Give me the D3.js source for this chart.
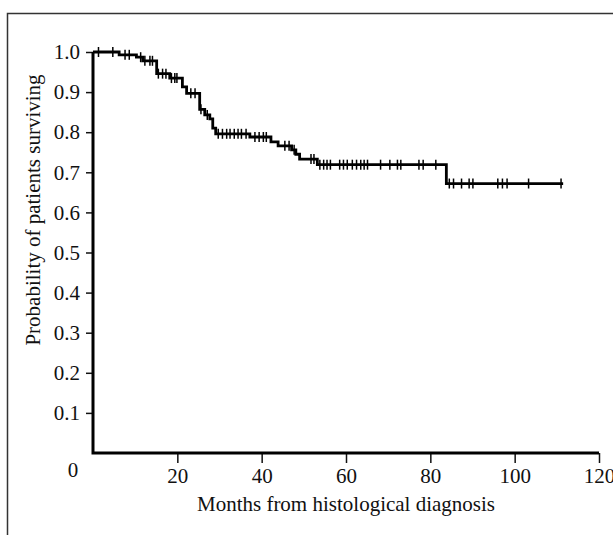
<!DOCTYPE html>
<html>
<head>
<meta charset="utf-8">
<script src="https://cdn.jsdelivr.net/npm/d3@7"></script>
<style>
  html, body { margin: 0; padding: 0; background: #fff; overflow: hidden; }
  svg { display: block; }
  text { font-family: "Liberation Serif", "Times New Roman", serif; fill: #111; }
</style>
</head>
<body>
<script>
// Kaplan-Meier steps: time (months) where survival drops, and survival after the drop
var stepTimes = [0, 6.2, 10.3, 11.8, 15.1, 18.2, 21.2, 22.2, 25.3, 26.5, 27.7, 28.4, 29.1, 37.2, 42.2, 43.9, 47.1, 48.1, 49.0, 53.2, 83.8];
var stepSurv  = [1.0, 0.993, 0.987, 0.978, 0.946, 0.935, 0.913, 0.897, 0.857, 0.843, 0.833, 0.81, 0.796, 0.788, 0.776, 0.766, 0.756, 0.745, 0.733, 0.719, 0.672];
var endTime = 111.5;

// censored observations (months)
var censorTimes = [1.3, 4.7, 7.6, 8.6, 11.3, 12.3, 13.5, 14.1, 15.5, 16.5, 17.3, 18.6, 19.4, 19.9, 23.2, 24.2, 25.6, 27.1,
  29.7, 30.7, 31.7, 32.5, 33.5, 34.4, 35.2, 36.3, 38.4, 39.4, 40.4, 41.1, 45.5, 46.5, 47.7, 51.7, 52.4,
  53.8, 54.7, 55.5, 56.3, 58.5, 59.4, 60.3, 61.5, 62.5, 63.5, 64.3, 65.1, 68.2, 70.4, 72.2, 73.0, 77.3, 78.3, 81.3,
  84.5, 85.5, 87.4, 89.2, 90.1, 96.0, 97.1, 98.2, 103.3, 111.0];

var xTicks = [20, 40, 60, 80, 100, 120];
var yTicks = [0.1, 0.2, 0.3, 0.4, 0.5, 0.6, 0.7, 0.8, 0.9, 1.0];
var xTitle = "Months from histological diagnosis";
var yTitle = "Probability of patients surviving";

var W = 613, H = 535, FS = 21;
var svg = d3.select("body").append("svg").attr("width", W).attr("height", H);

// outer frame (runs off the right and bottom edges)
svg.append("rect")
  .attr("x", 7.5).attr("y", 13.5).attr("width", 700).attr("height", 600)
  .attr("fill", "none").attr("stroke", "#333").attr("stroke-width", 1.5);

var x = d3.scaleLinear().domain([0, 120]).range([93, 599]);
var y = d3.scaleLinear().domain([0, 1]).range([453, 52]);

function survAt(t) {
  var s = stepSurv[0];
  for (var i = 0; i < stepTimes.length; i++) {
    if (stepTimes[i] <= t) s = stepSurv[i];
  }
  return s;
}

// axes
var xAxis = svg.append("g").attr("transform", "translate(0," + y(0) + ")")
  .call(d3.axisBottom(x).tickValues(xTicks).tickSize(10).tickPadding(5).tickFormat(d3.format("d")));
var yAxis = svg.append("g").attr("transform", "translate(" + x(0) + ",0)")
  .call(d3.axisLeft(y).tickValues(yTicks).tickSize(7).tickPadding(6).tickFormat(d3.format(".1f")));

[xAxis, yAxis].forEach(function (g) {
  g.select(".domain").remove();
  g.selectAll(".tick line").attr("stroke", "#111").attr("stroke-width", 1.5);
  g.selectAll(".tick text").attr("font-size", FS).attr("font-family", "Liberation Serif").attr("fill", "#111");
});

// thick axis lines
svg.append("path")
  .attr("d", "M" + x(0) + "," + y(1) + "V" + y(0) + "H" + x(120))
  .attr("fill", "none").attr("stroke", "#000").attr("stroke-width", 3);

// zero label at origin
svg.append("text").attr("x", 73).attr("y", 477)
  .attr("text-anchor", "middle").attr("font-size", FS).text("0");

// survival step line
var pts = stepTimes.map(function (t, i) { return [t, stepSurv[i]]; });
pts.push([endTime, stepSurv[stepSurv.length - 1]]);
var line = d3.line().x(function (d) { return x(d[0]); }).y(function (d) { return y(d[1]); }).curve(d3.curveStepAfter);
svg.append("path").datum(pts).attr("d", line)
  .attr("fill", "none").attr("stroke", "#000").attr("stroke-width", 2.8);

// censor marks
svg.selectAll(".censor").data(censorTimes).enter().append("line")
  .attr("class", "censor")
  .attr("x1", function (d) { return x(d); }).attr("x2", function (d) { return x(d); })
  .attr("y1", function (d) { return y(survAt(d)) - 5; })
  .attr("y2", function (d) { return y(survAt(d)) + 5; })
  .attr("stroke", "#000").attr("stroke-width", 1.5);

// titles
svg.append("text").attr("x", 346).attr("y", 511).attr("text-anchor", "middle")
  .attr("font-size", FS).text(xTitle);
svg.append("text").attr("transform", "translate(40,210) rotate(-90)")
  .attr("text-anchor", "middle").attr("font-size", FS).text(yTitle);
</script>
</body>
</html>
